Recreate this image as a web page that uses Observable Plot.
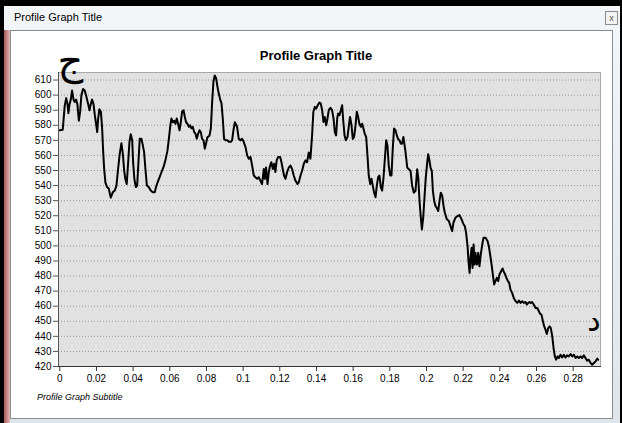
<!DOCTYPE html>
<html><head><meta charset="utf-8">
<script src="https://cdn.jsdelivr.net/npm/d3@7"></script>
<script src="https://cdn.jsdelivr.net/npm/@observablehq/plot@0.6"></script>
<style>
html,body{margin:0;padding:0;background:#000;width:622px;height:423px;overflow:hidden;font-family:"Liberation Sans",Arial,sans-serif;}
#win{position:absolute;left:4px;top:6px;width:616px;height:417px;background:linear-gradient(#f3f6f9,#dfe5ec);}
#leftstrip{position:absolute;left:4px;top:30px;width:6px;height:393px;background:linear-gradient(90deg,#a85858,#e2b8b8);}
#wtitle{position:absolute;left:14px;top:11px;font-size:11px;line-height:13px;color:#000;}
#close{position:absolute;left:605px;top:11px;width:11px;height:12px;border:1px solid #8a8a8a;background:#f4f4f4;font-size:9px;line-height:12px;text-align:center;color:#555;}
#panel{position:absolute;left:10px;top:30px;width:601px;height:387px;background:#fff;border:1px solid #8c8c8c;}
#title{position:absolute;left:216px;width:200px;top:48px;text-align:center;font-size:13px;line-height:15px;font-weight:bold;color:#000;}
#chart{position:absolute;left:12px;top:64px;}
#sub{position:absolute;left:37px;top:392px;font-size:9px;line-height:11px;font-style:italic;color:#000;}
</style></head>
<body>
<div id="win"></div>
<div id="leftstrip"></div>
<div id="wtitle">Profile Graph Title</div>
<div id="close">x</div>
<div id="panel"></div>
<div id="title">Profile Graph Title</div>
<div id="chart"></div>
<div id="sub">Profile Graph Subtitle</div>
<script>
const dist = [
0.0000,0.0016,0.0027,0.0035,0.0042,0.0047,0.0053,0.0060,0.0067,0.0075,0.0082,0.0089,0.0096,0.0104,0.0111,0.0118,0.0127,0.0136,0.0145,0.0155,
0.0162,0.0169,0.0176,0.0184,0.0191,0.0198,0.0204,0.0209,0.0216,0.0224,0.0231,0.0236,0.0242,0.0249,0.0258,0.0267,0.0278,0.0289,0.0300,0.0309,
0.0318,0.0327,0.0336,0.0344,0.0351,0.0358,0.0365,0.0373,0.0380,0.0387,0.0395,0.0400,0.0407,0.0415,0.0422,0.0429,0.0436,0.0445,0.0453,0.0460,
0.0467,0.0475,0.0485,0.0496,0.0507,0.0518,0.0525,0.0533,0.0544,0.0555,0.0565,0.0576,0.0587,0.0595,0.0602,0.0609,0.0616,0.0624,0.0631,0.0638,
0.0645,0.0653,0.0660,0.0667,0.0675,0.0682,0.0689,0.0696,0.0704,0.0711,0.0718,0.0725,0.0733,0.0740,0.0747,0.0755,0.0762,0.0769,0.0776,0.0784,
0.0791,0.0798,0.0805,0.0816,0.0824,0.0831,0.0838,0.0845,0.0853,0.0860,0.0867,0.0875,0.0882,0.0889,0.0896,0.0904,0.0915,0.0922,0.0933,0.0940,
0.0947,0.0955,
0.0967,0.0976,0.0985,0.0994,0.1003,0.1013,0.1022,0.1031,0.1040,0.1049,0.1058,0.1067,0.1076,0.1085,0.1094,0.1103,0.1113,0.1118,0.1125,0.1133,
0.1140,0.1147,0.1154,0.1162,0.1169,0.1176,0.1183,0.1191,0.1202,0.1209,0.1216,0.1223,0.1231,0.1240,0.1249,0.1258,0.1267,0.1276,0.1285,0.1296,
0.1303,0.1313,0.1322,0.1331,0.1340,0.1349,0.1358,0.1367,0.1376,0.1383,0.1391,0.1398,0.1407,0.1416,0.1423,0.1431,0.1438,0.1445,0.1453,0.1460,
0.1467,0.1476,0.1485,0.1493,0.1500,0.1507,0.1513,0.1518,0.1525,0.1533,0.1540,0.1545,0.1553,0.1560,0.1569,0.1576,0.1583,0.1591,0.1598,0.1605,
0.1613,0.1620,0.1627,0.1634,0.1642,0.1649,0.1656,0.1663,0.1671,0.1678,0.1685,0.1693,0.1700,0.1707,0.1714,0.1722,0.1729,0.1736,0.1743,0.1751,
0.1758,0.1765,0.1773,0.1780,0.1787,0.1794,0.1802,0.1809,0.1816,0.1823,0.1831,0.1838,0.1845,0.1853,0.1860,0.1867,0.1874,0.1882,
0.1886,0.1895,0.1904,0.1913,0.1922,0.1931,0.1940,0.1949,0.1955,0.1962,0.1969,0.1975,0.1982,0.1989,0.1996,0.2004,0.2009,0.2015,0.2022,0.2029,
0.2035,0.2042,0.2049,0.2056,0.2064,0.2071,0.2078,0.2086,0.2093,0.2100,0.2111,0.2122,0.2131,0.2140,0.2147,0.2158,0.2169,0.2180,0.2187,0.2195,
0.2202,0.2209,0.2216,0.2224,0.2229,0.2235,0.2240,0.2246,0.2251,0.2257,0.2262,0.2267,0.2275,0.2282,0.2289,0.2296,0.2304,0.2311,0.2322,0.2333,
0.2340,0.2347,0.2355,0.2362,0.2369,0.2376,0.2384,0.2391,0.2398,0.2407,0.2415,0.2422,0.2429,0.2436,0.2444,0.2451,0.2458,0.2467,0.2476,0.2486,
0.2495,0.2504,0.2513,0.2522,0.2531,0.2540,0.2547,0.2555,0.2562,0.2569,0.2576,0.2585,0.2595,0.2604,0.2613,0.2620,0.2627,0.2635,0.2642,0.2649,
0.2656,0.2664,0.2671,0.2678,0.2686,0.2693,0.2700,0.2707,0.2715,0.2722,0.2731,0.2740,0.2749,0.2758,0.2767,0.2776,0.2786,0.2795,0.2804,0.2813,
0.2822,0.2831,0.2840,0.2849,0.2858,0.2867,0.2876,0.2885,0.2895,0.2904,0.2913,0.2922,0.2931,0.2936
];
const elev = [
576.7,577,593,598,594,588,594,597,603,597,595.5,597,594,583,589,600,604,603,599,594,
590,594,597,594,586.7,581,575.5,584,590.7,589,578,564,551,542,539,538,532,535.5,536.7,540,
551,561,568,561,550,544,541,555.5,569,574,570,555.5,544,539,540,555.5,571,571,566.7,562,
551,540,539,536.7,535.5,535.5,539,542,545.5,549,552,556.7,563,571,579,584.5,582,583,581,584.5,
581,576.7,582,589,590,585.5,582,581,579,580,578,579,575.5,574.5,571,574.5,576.7,575.5,571,570,
564.5,568,572,573,578,595.5,609,613,611,605.5,601,597,594.5,584.5,571,570,570,569,569,570,
576.7,582,
579,571,570,571,569,565.5,560,557.8,559,553.3,546.7,545.5,544.5,545.5,543.3,541,551,544.5,552,541,
549,553.3,555.5,551,554.5,549,556.7,559,559,555.5,551,546.7,544.5,549,552,553.3,551,546.7,543.3,541,
542,546.7,550,554.5,556.7,555.5,562,557.8,573.3,589,592.2,591,593.3,595,594.5,590,582.2,585.5,580,584.5,
590,591.5,590,584.5,575.5,573.3,584.5,587.8,586.7,590,593.3,584.5,573.3,570,572.2,579,585.5,580,571,572.2,
580,589,585.5,581,579,581,577.8,574.5,572.2,560,546.7,541,544.5,540,535.5,532.2,540,545.5,546.7,538.9,
536.7,544.5,557.8,570,566.7,553.3,546.7,546.7,564.5,577.8,576.7,573.3,571,570,567.8,567.8,572.2,565.5,
561.9,551.9,550.8,549.7,539.7,535.3,536.4,550.8,545.3,529.8,518.7,510.9,518.7,532,545.3,555.2,560.8,557.5,551.9,549.7,
536.4,529.8,526.4,525.3,523.1,529.8,535.3,533.1,526.4,522,517.6,516.5,513.1,509.8,515.4,518.7,519.8,520.4,518.7,516.5,
514.2,513.1,508.7,499.8,489.9,482.1,492.1,498.7,485.4,500.9,487.6,495.4,487.6,495.4,486.5,494.3,500.9,505.4,505.4,503.2,
499.8,494.3,487.6,481.0,474.4,476.6,478.8,476.6,481.0,483.2,485.0,482.8,481.0,478.8,476.6,475.5,471.0,468.8,465.5,463.3,
462.2,463.7,462.2,463.3,462.2,462.8,461.1,462.2,462.8,462.2,462.8,461.1,458.8,458.8,456.6,454.9,454.4,450.0,446.6,444.4,
441.6,445.5,446.6,445.5,440.0,432.2,426.7,424.5,426.7,425.6,427.8,426.0,427.8,426.0,427.4,426.7,428.3,426.7,427.8,425.6,
426.7,425.6,426.7,425.6,427.4,425.6,423.8,424.5,422.3,421.2,422.3,423.4,425.2,424.5
];
const xTicks = [0,0.02,0.04,0.06,0.08,0.1,0.12,0.14,0.16,0.18,0.2,0.22,0.24,0.26,0.28];
const yTicks = [420,430,440,450,460,470,480,490,500,510,520,530,540,550,560,570,580,590,600,610];
const xDomain = [-0.0007, 0.2949];
const yDomain = [420, 615];
const startLabel = ["ج"];
const endLabel = ["د"];

const pts = dist.map((d,i)=>({d, e: elev[i]}));
const fmt = v => String(+v.toFixed(2));

const chart = Plot.plot({
  width: 600, height: 330,
  marginLeft: 46, marginRight: 12, marginTop: 8, marginBottom: 28,
  style: {background: "transparent", overflow: "visible", fontFamily: "'Liberation Sans', Arial, sans-serif", fontSize: "10px", color: "#000"},
  x: {domain: xDomain, ticks: xTicks, tickFormat: fmt},
  y: {domain: yDomain, ticks: yTicks},
  marks: [
    Plot.frame({fill: "#e1e1e1", stroke: "#a8a8a8"}),
    Plot.ruleY(yTicks, {stroke: "#999", strokeDasharray: "1,2", strokeWidth: 1}),
    Plot.frame({anchor: "left", stroke: "#555"}),
    Plot.frame({anchor: "bottom", stroke: "#333"}),
    Plot.axisY({ticks: yTicks, tickSize: 5, tickPadding: 2, fontSize: 10, label: null, stroke: "#555"}),
    Plot.axisX({ticks: xTicks, tickSize: 5, tickPadding: 3, fontSize: 10, label: null, tickFormat: fmt, stroke: "#333"}),
    Plot.line(pts, {x: "d", y: "e", stroke: "#000", strokeWidth: 2, strokeLinejoin: "round"}),
    Plot.text(startLabel, {text: d => d, frameAnchor: "top-left", dx: -1, dy: -27, fontSize: 40, fontFamily: "'DejaVu Sans', sans-serif", fill: "#000"}),
    Plot.text(endLabel, {text: d => d, frameAnchor: "bottom-right", dx: 0, dy: -36, fontSize: 30, fontFamily: "'DejaVu Sans', sans-serif", fill: "#000"})
  ]
});
document.getElementById("chart").appendChild(chart);
</script>
</body></html>
